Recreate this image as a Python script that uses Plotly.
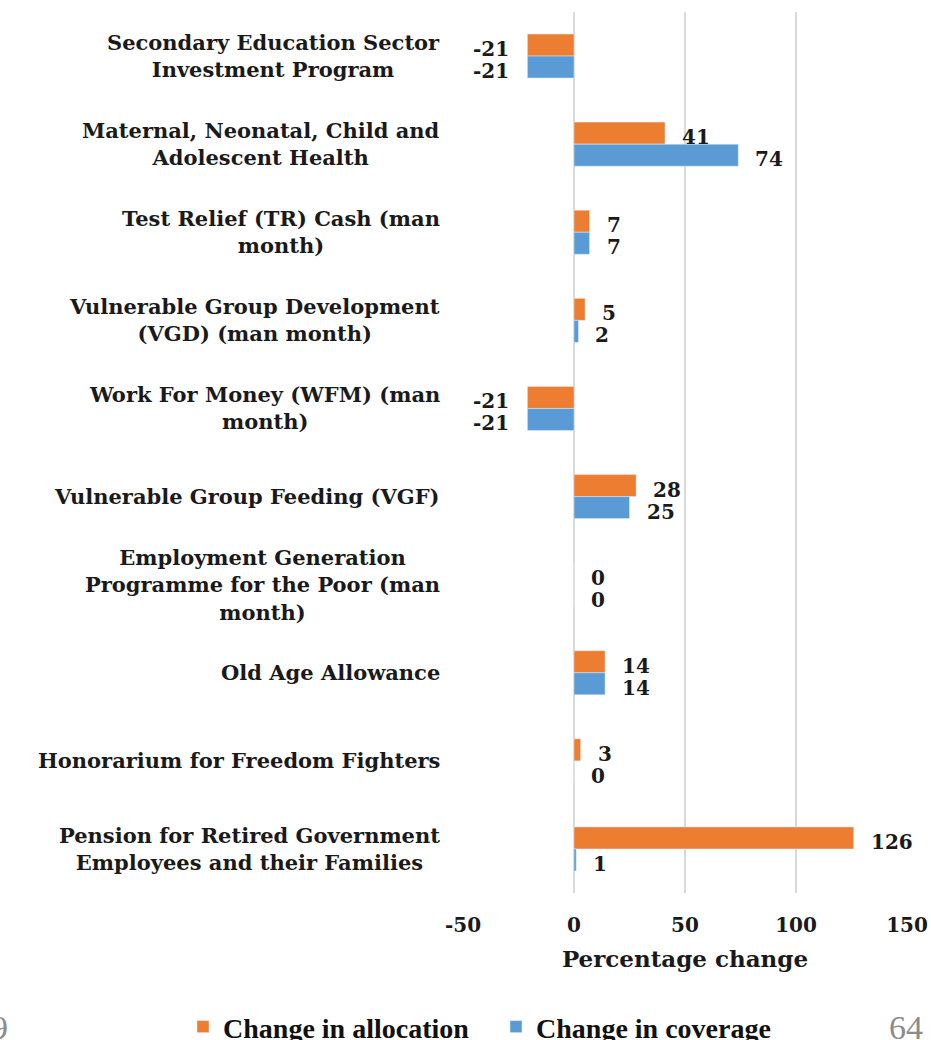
import plotly.graph_objects as go

categories = [
    "Secondary Education Sector<br>Investment Program",
    "Maternal, Neonatal, Child and<br>Adolescent Health",
    "Test Relief (TR) Cash (man<br>month)",
    "Vulnerable Group Development<br>(VGD) (man month)",
    "Work For Money (WFM) (man<br>month)",
    "Vulnerable Group Feeding (VGF)",
    "Employment Generation<br>Programme for the Poor (man<br>month)",
    "Old Age Allowance",
    "Honorarium for Freedom Fighters",
    "Pension for Retired Government<br>Employees and their Families",
]
allocation = [-21, 41, 7, 5, -21, 28, 0, 14, 3, 126]
coverage = [-21, 74, 7, 2, -21, 25, 0, 14, 0, 1]
x_ticks = [-50, 0, 50, 100, 150]

ORANGE = "#ED7D31"
BLUE = "#5B9BD5"
SERIF = "DejaVu Serif"

fig = go.Figure()
fig.add_trace(go.Bar(y=categories, x=allocation, orientation="h", name="Change in allocation",
                     marker=dict(color=ORANGE)))
fig.add_trace(go.Bar(y=categories, x=coverage, orientation="h", name="Change in coverage",
                     marker=dict(color=BLUE)))

annotations = []
# category labels (centered multi-line)
for i, c in enumerate(categories):
    annotations.append(dict(x=0, xref="paper", y=i, yref="y", text=c, showarrow=False,
                            xanchor="right", yanchor="middle", align="center", xshift=-21,
                            font=dict(family=SERIF, size=21, color="#1a1a1a", weight="bold")))
# data labels
for vals, off in ((allocation, -0.125), (coverage, 0.125)):
    for i, v in enumerate(vals):
        neg = v < 0
        annotations.append(dict(x=v, y=i + off, xref="x", yref="y", text=str(v), showarrow=False,
                                xanchor="right" if neg else "left", yanchor="middle",
                                xshift=-16 if neg else 15, yshift=-4,
                                font=dict(family=SERIF, size=20, color="#1a1a1a", weight="bold")))
# page numbers
annotations.append(dict(x=0.9977, y=-0.1532, xref="paper", yref="paper", text="64", showarrow=False,
                        xanchor="center", yanchor="middle",
                        font=dict(family="Liberation Serif", size=34, color="#8c8c8c")))
annotations.append(dict(x=-1.0203, y=-0.1532, xref="paper", yref="paper", text="9", showarrow=False,
                        xanchor="right", yanchor="middle",
                        font=dict(family="Liberation Serif", size=34, color="#8c8c8c")))

fig.update_layout(
    width=931, height=1040,
    margin=dict(l=463, r=24, t=12, b=147, autoexpand=False),
    paper_bgcolor="white", plot_bgcolor="white",
    barmode="group", bargap=0.5, bargroupgap=0,
    font=dict(family=SERIF, color="#1a1a1a"),
    annotations=annotations,
    legend=dict(orientation="h", x=-0.6306, y=-0.152, xanchor="left", yanchor="middle",
                font=dict(family="Liberation Serif", size=28, color="#111111", weight="bold"),
                itemwidth=30, entrywidth=268, entrywidthmode="pixels",
                traceorder="normal", bgcolor="rgba(0,0,0,0)"),
    xaxis=dict(range=[-50, 150], tickvals=x_ticks, ticktext=[str(t) for t in x_ticks],
               showgrid=True, gridcolor="#d9d9d9", gridwidth=2, zeroline=True,
               zerolinecolor="#d9d9d9", zerolinewidth=2, showline=False,
               ticks="", ticklabelstandoff=18,
               tickfont=dict(family=SERIF, size=20, color="#1a1a1a", weight="bold"),
               title=dict(text="Percentage change", standoff=14,
                          font=dict(family=SERIF, size=23, color="#1a1a1a", weight="bold"))),
    yaxis=dict(autorange="reversed", showticklabels=False, showgrid=False, zeroline=False,
               showline=False, ticks=""),
)

fig.write_html(
    "out.html",
    config={"displayModeBar": False},
    post_script="document.body.style.margin='0';document.body.style.overflow='hidden';"
                "document.documentElement.style.overflow='hidden';",
)
